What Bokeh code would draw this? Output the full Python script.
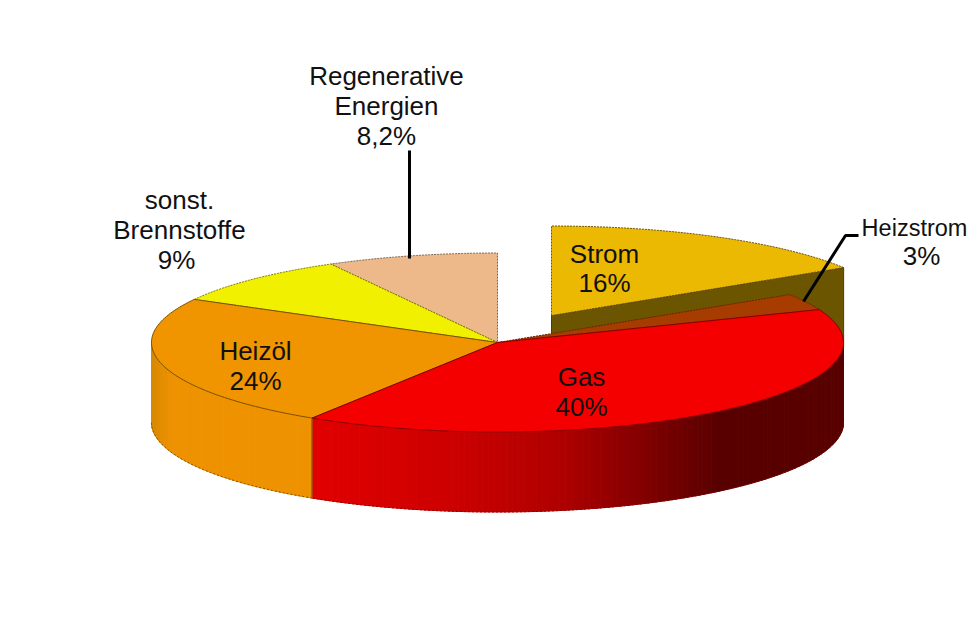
import numpy as np
from bokeh.plotting import figure
from bokeh.models import ColumnDataSource
from bokeh.embed import file_html
from bokeh.resources import INLINE
from bokeh.core.properties import value

# ---- data ----
categories = ["Strom", "Heizstrom", "Gas", "Heizöl", "sonst. Brennstoffe", "Regenerative Energien"]
shares = [16, 3, 40, 24, 9, 8.2]
share_labels = ["16%", "3%", "40%", "24%", "9%", "8,2%"]

# ---- styling and layout ----
top_colors = ["#ecb902", "#a63c00", "#f40000", "#f09400", "#f0f000", "#edb98a"]
edge_colors = ["#6a5410", "#6a2500", "#8a0000", "#7a5000", "#807a00", "#7a6650"]
CX, CY, RX, RY, DEPTH = 497.0, 342.0, 346.0, 89.5, 80.0
EXPLODE = {0: (54.0, -27.0)}
FONT = "Liberation Sans"

# x of name lines, y of first line, line step, name lines, font size, x of share line
label_layout = {
    "Strom": (604, 253, 29, ["Strom"], "26px", 604),
    "Heizstrom": (914, 227, 28, ["Heizstrom"], "23.5px", 921),
    "Gas": (581, 376, 30, ["Gas"], "26px", 581),
    "Heizöl": (255, 350, 30, ["Heizöl"], "26px", 255),
    "sonst. Brennstoffe": (179, 199, 30, ["sonst.", "Brennstoffe"], "26px", 176),
    "Regenerative Energien": (386, 75, 30, ["Regenerative", "Energien"], "26px", 386),
}
leaders = [([409, 409], [150, 258]), ([803, 845, 858], [301, 235, 235])]

p = figure(width=967, height=623, x_range=(0, 967), y_range=(623, 0),
           output_backend="svg", toolbar_location=None, min_border=0)
p.axis.visible = False
p.grid.visible = False
p.outline_line_color = None
p.background_fill_color = "white"
p.border_fill_color = "white"

# the printed shares add up to 100.2; the last slice simply closes the circle
edges = np.radians(np.minimum(np.concatenate([[0], np.cumsum(shares)]) * 3.6, 360.0))


def pt(theta, dx=0.0, dy=0.0):
    return CX + dx + RX * np.sin(theta), CY + dy - RY * np.cos(theta)


def top_face(i):
    dx, dy = EXPLODE.get(i, (0.0, 0.0))
    t = np.linspace(edges[i], edges[i + 1], 80)
    x, y = pt(t, dx, dy)
    return [CX + dx, *x], [CY + dy, *y]


def hexcol(r, g, b):
    return "#%02x%02x%02x" % (int(r), int(g), int(b))


def side_strips(i, t0, t1, color_fn):
    ts = np.linspace(t0, t1, int(np.degrees(t1 - t0)) + 2)
    xs, ys, cs = [], [], []
    for a, b in zip(ts[:-1], ts[1:]):
        xa, ya = pt(a)
        xb, yb = pt(b)
        xs.append([xa, xb, xb, xa])
        ys.append([ya, yb, yb + DEPTH, ya + DEPTH])
        cs.append(color_fn((xa + xb) / 2))
    p.patches(xs=xs, ys=ys, fill_color=cs, line_color=cs, line_width=1)
    t = np.linspace(t0, t1, 120)
    x, y = pt(t)
    p.line(x, y + DEPTH, line_color=edge_colors[i], line_width=1, line_dash="2 2")


def gas_color(x):
    return hexcol(np.interp(x, [310, 450, 560, 650, 720, 843], [226, 205, 176, 126, 88, 88]), 0, 0)


def oil_color(x):
    return hexcol(np.interp(x, [151, 170, 843], [216, 238, 238]),
                  np.interp(x, [151, 170, 843], [138, 146, 146]), 0)


# radial face of the pulled-out Strom slice
dx0, dy0 = EXPLODE[0]
xe, ye = pt(edges[1], dx0, dy0)
p.patch([CX + dx0, xe, xe, CX + dx0], [CY + dy0, ye, ye + DEPTH, CY + dy0 + DEPTH],
        fill_color="#6b5500", line_color="#4d3f00", line_width=1)

# tops behind the front rim
for i in [0, 1, 5, 4]:
    x, y = top_face(i)
    p.patch(x, y, fill_color=top_colors[i], line_color=edge_colors[i], line_width=1, line_dash="2 1")

# outer walls of the front slices
side_strips(3, edges[3], np.radians(270.0), oil_color)
side_strips(2, np.radians(90.0), edges[3], gas_color)

xb, yb = pt(edges[3])
p.line([xb, xb], [yb, yb + DEPTH], line_color="#8a6a00", line_width=1)

# tops in front
for i in [3, 2]:
    x, y = top_face(i)
    p.patch(x, y, fill_color=top_colors[i], line_color=edge_colors[i], line_width=1)

# leader lines
for lx, ly in leaders:
    p.line(lx, ly, line_color="black", line_width=3)

# labels
tx, ty, tt, ts = [], [], [], []
for name, lab in zip(categories, share_labels):
    x0, y0, step, lines, fs, xs0 = label_layout[name]
    for k, s in enumerate(lines):
        tx.append(x0)
        ty.append(y0 + k * step)
        tt.append(s)
        ts.append(fs)
    tx.append(xs0)
    ty.append(y0 + len(lines) * step)
    tt.append(lab)
    ts.append("26px")
src = ColumnDataSource(dict(x=tx, y=ty, t=tt, fs=ts))
p.text(x="x", y="y", text="t", source=src, text_align="center", text_baseline="middle",
       text_font=value(FONT), text_font_size="fs", text_color="#111111")

open("out.html", "w").write(file_html(p, INLINE))
